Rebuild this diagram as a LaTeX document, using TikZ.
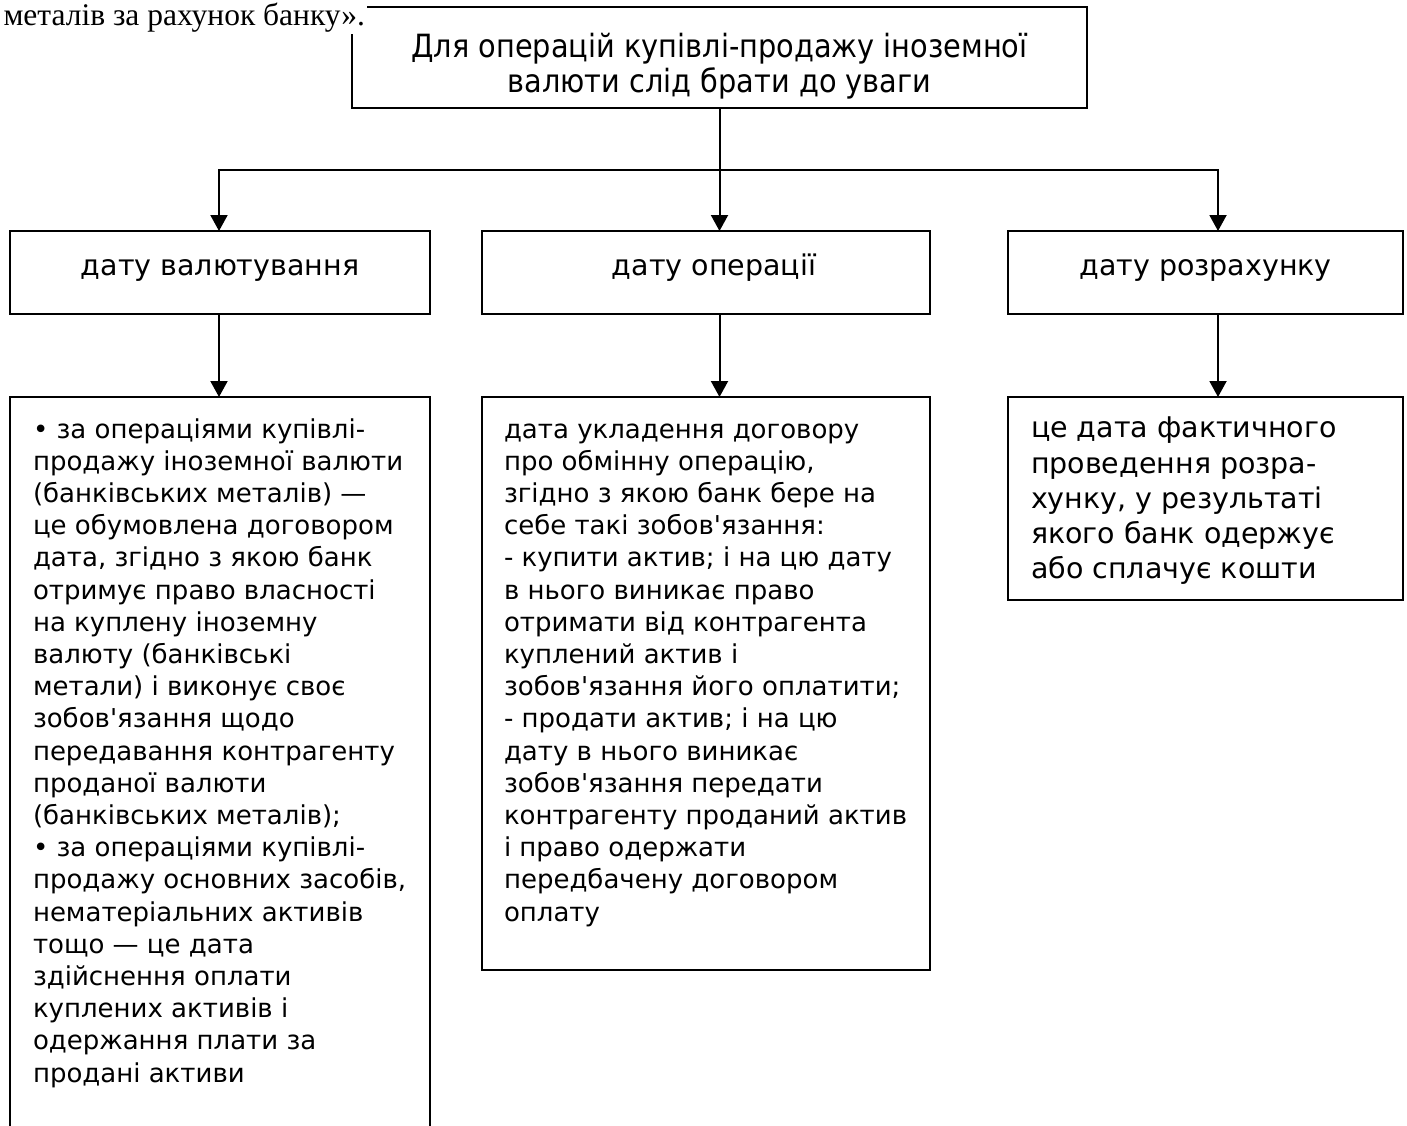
\documentclass[tikz,border=0pt]{standalone}
\usepackage{fontspec}
\newfontfamily\bodyfont{DejaVu Sans}
\newfontfamily\serifface{Liberation Serif}
\newfontfamily\titleface[FakeStretch=0.9]{DejaVu Sans}
\usetikzlibrary{arrows.meta}
\begin{document}
\begin{tikzpicture}[x=1pt,y=-1pt,line width=2pt,
  box/.style={draw,line width=2pt,rectangle,inner sep=0pt,outer sep=0pt},
  body/.style={inner sep=0pt,align=left,anchor=north west,font=\bodyfont\fontsize{26}{32.2}\selectfont},
  bigbody/.style={inner sep=0pt,align=left,anchor=north west,font=\bodyfont\fontsize{28.5}{35.25}\selectfont},
  lbl/.style={anchor=base,inner sep=0pt,font=\bodyfont\fontsize{28.5}{34}\selectfont},
  arr/.style={-{Triangle[width=17pt,length=16pt]},line width=2pt}]
\useasboundingbox (0,0) rectangle (1407,1126);
\clip (0,0) rectangle (1407,1126);
\fill[white] (0,0) rectangle (1407,1126);
% boxes
\node[box,minimum width=735pt,minimum height=101pt] (top) at (719.5,57.5) {};
\node[box,minimum width=420pt,minimum height=83pt] (b1) at (220,272.5) {};
\node[box,minimum width=448pt,minimum height=83pt] (b2) at (706,272.5) {};
\node[box,minimum width=395pt,minimum height=83pt] (b3) at (1205.5,272.5) {};
\node[box,minimum width=420pt,minimum height=753pt] (c1) at (220,773.5) {};
\node[box,minimum width=448pt,minimum height=573pt] (c2) at (706,683.5) {};
\node[box,minimum width=395pt,minimum height=203pt] (c3) at (1205.5,498.5) {};
% preceding text
\node[anchor=base west,fill=white,inner sep=1.5pt,font=\serifface\fontsize{31.5}{33}\selectfont] (pre) at (1,26) {металів за рахунок банку».};
% title
\node[anchor=north,align=center,inner sep=0pt,font=\titleface\fontsize{32}{33}\selectfont] (ttl) at (719.5,31.9) {\strut Для операцій купівлі-продажу іноземної\\валюти слід брати до уваги};
% row 2 labels
\node[lbl] (l1) at (220,275) {дату валютування};
\node[lbl] (l2) at (714,275) {дату операції};
\node[lbl] (l3) at (1205.5,275) {дату розрахунку};
% row 3 texts
\node[body] (t1) at (32,414.5) {\strut • за операціями купівлі-\\
продажу іноземної валюти\\
(банківських металів) —\\
це обумовлена договором\\
дата, згідно з якою банк\\
отримує право власності\\
на куплену іноземну\\
валюту (банківські\\
метали) і виконує своє\\
зобов'язання щодо\\
передавання контрагенту\\
проданої валюти\\
(банківських металів);\\
• за операціями купівлі-\\
продажу основних засобів,\\
нематеріальних активів\\
тощо — це дата\\
здійснення оплати\\
куплених активів і\\
одержання плати за\\
продані активи};
\node[body] (t2) at (503,414.5) {\strut дата укладення договору\\
про обмінну операцію,\\
згідно з якою банк бере на\\
себе такі зобов'язання:\\
- купити актив; і на цю дату\\
в нього виникає право\\
отримати від контрагента\\
куплений актив і\\
зобов'язання його оплатити;\\
- продати актив; і на цю\\
дату в нього виникає\\
зобов'язання передати\\
контрагенту проданий актив\\
і право одержати\\
передбачену договором\\
оплату};
\node[bigbody] (t3) at (1030,412.3) {\strut це дата фактичного\\
проведення розра-\\
хунку, у результаті\\
якого банк одержує\\
або сплачує кошти};
% connectors
\coordinate (hub) at (719.5,170);
\coordinate (jL) at (219,170);
\coordinate (jR) at (1218,170);
\draw (top.south) -- (hub);
\draw[arr] (hub) -| (jL |- b1.north);
\draw[arr] (hub) -| (jR |- b3.north);
\draw[arr] (hub) -- (hub |- b2.north);
\draw[arr] (jL |- b1.south) -- (jL |- c1.north);
\draw[arr] (hub |- b2.south) -- (hub |- c2.north);
\draw[arr] (jR |- b3.south) -- (jR |- c3.north);
\end{tikzpicture}
\end{document}
